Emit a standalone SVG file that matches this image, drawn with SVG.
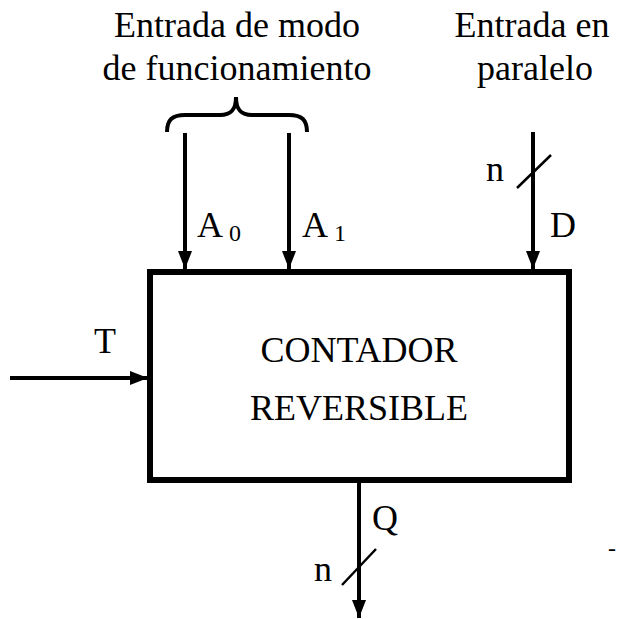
<svg xmlns="http://www.w3.org/2000/svg" width="617" height="619" viewBox="0 0 617 619">
<defs>
<marker id="ah" viewBox="0 0 18 14" refX="18" refY="7" markerWidth="18" markerHeight="14" markerUnits="userSpaceOnUse" orient="auto">
<path d="M0,0 L18,7 L0,14 Z" fill="#000"/>
</marker>
</defs>
<style>
text{font-family:"Liberation Serif","Times New Roman",serif;fill:#000}
.t{font-size:36px}
.s{font-size:24px}
.c{text-anchor:middle}
.w{stroke:#000;stroke-width:4;fill:none}
.sl{stroke:#000;stroke-width:2.5;fill:none}
</style>
<rect width="617" height="619" fill="#fff"/>
<g id="labels">
<text class="t c" x="237" y="37">Entrada de modo</text>
<text class="t c" x="237" y="80">de funcionamiento</text>
<text class="t c" x="532" y="37">Entrada en</text>
<text class="t c" x="535" y="80">paralelo</text>
<path class="w" d="M167,132 C167,120 172,115 185,115 L220,115 C231,115 236,110 236,97 C236,110 241,115 252,115 L289,115 C302,115 307,120 307,132"/>
</g>
<g id="counter">
<rect x="150" y="272" width="419" height="208" fill="none" stroke="#000" stroke-width="6"/>
<text class="t c" x="359" y="362">CONTADOR</text>
<text class="t c" x="359" y="420">REVERSIBLE</text>
</g>
<g id="connectors">
<line class="w" x1="185" y1="133" x2="185" y2="269" marker-end="url(#ah)"/>
<line class="w" x1="289" y1="133" x2="289" y2="269" marker-end="url(#ah)"/>
<line class="w" x1="533" y1="132" x2="533" y2="269" marker-end="url(#ah)"/>
<line class="w" x1="10" y1="378" x2="148" y2="378" marker-end="url(#ah)"/>
<line class="w" x1="359" y1="483" x2="359" y2="618" marker-end="url(#ah)"/>
<line class="sl" x1="517" y1="188" x2="551" y2="155"/>
<line class="sl" x1="342" y1="585" x2="376" y2="549"/>
</g>
<g id="signal-labels">
<text class="t" x="197" y="237">A</text>
<text class="s" x="229" y="241">0</text>
<text class="t" x="302" y="237">A</text>
<text class="s" x="334" y="241">1</text>
<text class="t" x="550" y="237">D</text>
<text class="t" x="486" y="181">n</text>
<text class="t" x="94" y="353">T</text>
<text class="t" x="372" y="530">Q</text>
<text class="t" x="314" y="581">n</text>
<text class="s" x="608" y="556">-</text>
</g>
</svg>
